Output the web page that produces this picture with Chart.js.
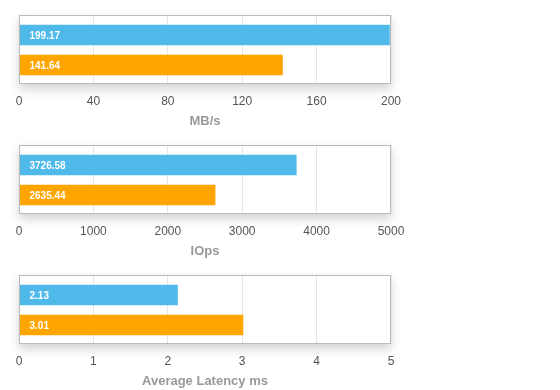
<!DOCTYPE html>
<html lang="en">
<head>
	<meta charset="UTF-8">
	<title>Benchmark</title>
	<style>
		body { margin: 0; background: #fff; }
		.grafico { width: 560px; height: 130px; position: relative; }
	</style>
</head>
<body>
	<div class="grafico"><canvas id="chartMB"></canvas></div>
	<div class="grafico"><canvas id="chartIOps"></canvas></div>
	<div class="grafico"><canvas id="chartLat"></canvas></div>

	<script src="https://cdn.jsdelivr.net/npm/chart.js"></script>
	<script>
		// valores de cada gráfico (barra azul, barra laranja)
		const mbValues = [199.17, 141.64];
		const iopsValues = [3726.58, 2635.44];
		const latValues = [2.13, 3.01];

		const titles = ['MB/s', 'IOps', 'Average Latency ms'];
		const axisMax = [200, 5000, 5];
		const axisStep = [40, 1000, 1];
		const barColors = ['#4fb9ea', '#ffa500'];

		// moldura + sombra em volta da área do gráfico
		const boxPlugin = {
			id: 'box',
			beforeDraw(chart) {
				const { ctx, chartArea: a } = chart;
				ctx.save();
				ctx.shadowColor = 'rgba(0,0,0,0.18)';
				ctx.shadowBlur = 10;
				ctx.shadowOffsetY = 5;
				ctx.fillStyle = '#fff';
				ctx.fillRect(a.left, a.top, a.right - a.left, a.bottom - a.top);
				ctx.restore();
			},
			afterDraw(chart) {
				const { ctx, chartArea: a } = chart;
				ctx.save();
				ctx.strokeStyle = '#bbbbbb';
				ctx.lineWidth = 1;
				ctx.strokeRect(Math.round(a.left) + 0.5, Math.round(a.top) + 0.5,
					Math.round(a.right - a.left) - 1, Math.round(a.bottom - a.top) - 1);
				ctx.restore();
			}
		};

		// texto do valor dentro da barra
		const labelPlugin = {
			id: 'valueLabels',
			afterDatasetsDraw(chart) {
				const { ctx } = chart;
				const meta = chart.getDatasetMeta(0);
				ctx.save();
				ctx.fillStyle = '#fff';
				ctx.font = 'bold 10px "Liberation Sans", Arial, sans-serif';
				ctx.textBaseline = 'middle';
				meta.data.forEach((bar, i) => {
					const v = chart.data.datasets[0].data[i].x;
					ctx.fillText(String(v), bar.base + 10, bar.y + 1);
				});
				ctx.restore();
			}
		};

		function makeChart(id, values, idx) {
			const ctx = document.getElementById(id).getContext('2d');
			return new Chart(ctx, {
				type: 'bar',
				data: {
					datasets: [{
						data: values.map((v, i) => ({ x: v, y: i })),
						backgroundColor: barColors,
						barThickness: 20,
						borderWidth: 0
					}]
				},
				options: {
					indexAxis: 'y',
					responsive: true,
					maintainAspectRatio: false,
					animation: false,
					layout: { padding: { left: 19, right: 169, top: 15, bottom: 0 } },
					plugins: { legend: { display: false }, tooltip: { enabled: false } },
					scales: {
						y: {
							type: 'linear',
							display: false,
							offset: false,
							reverse: true,
							min: -0.667,
							max: 1.633
						},
						x: {
							min: 0,
							max: axisMax[idx],
							border: { display: false },
							grid: { color: '#e6e6e6', drawTicks: false },
							ticks: {
								stepSize: axisStep[idx],
								padding: 10,
								color: '#555',
								callback: (v) => String(v),
								font: { family: '"Liberation Sans", Arial, sans-serif', size: 12 }
							},
							title: {
								display: true,
								text: titles[idx],
								color: '#999',
								padding: { top: 6, bottom: 1 },
								font: { family: '"Liberation Sans", Arial, sans-serif', size: 13, weight: 'bold' }
							},
							afterFit(scale) { scale.height = 46; }
						}
					}
				},
				plugins: [boxPlugin, labelPlugin]
			});
		}

		makeChart('chartMB', mbValues, 0);
		makeChart('chartIOps', iopsValues, 1);
		makeChart('chartLat', latValues, 2);
	</script>
</body>
</html>
